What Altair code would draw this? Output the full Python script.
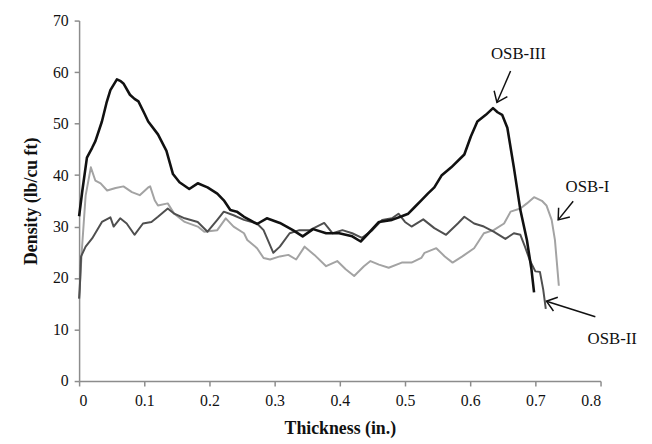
import math
import altair as alt
import pandas as pd

# ---- data ----
osb3_x = [0.000, 0.005, 0.012, 0.020, 0.025, 0.035, 0.042, 0.048, 0.058, 0.063, 0.068, 0.078, 0.085,
          0.091, 0.100, 0.106, 0.121, 0.134, 0.144, 0.154, 0.169, 0.182, 0.197, 0.212, 0.222, 0.232,
          0.242, 0.253, 0.263, 0.273, 0.288, 0.308, 0.328, 0.343, 0.359, 0.379, 0.399, 0.419, 0.432,
          0.444, 0.460, 0.480, 0.495, 0.505, 0.515, 0.525, 0.535, 0.545, 0.556, 0.571, 0.591, 0.601,
          0.611, 0.624, 0.635, 0.642, 0.649, 0.657, 0.667, 0.677, 0.687, 0.694, 0.698]
osb3_y = [32.0, 37.0, 43.4, 45.3, 46.6, 50.4, 54.0, 56.5, 58.6, 58.3, 57.8, 55.6, 54.8,
          54.3, 52.0, 50.4, 47.9, 44.7, 40.2, 38.6, 37.3, 38.4, 37.6, 36.4, 35.1, 33.2,
          32.9, 31.9, 31.2, 30.5, 31.6, 30.7, 29.3, 28.1, 29.5, 28.7, 28.7, 28.1, 27.1,
          28.7, 30.9, 31.3, 32.0, 32.5, 33.8, 35.1, 36.4, 37.6, 39.9, 41.5, 44.0, 47.5,
          50.4, 51.7, 53.0, 52.2, 51.7, 49.2, 41.5, 33.2, 27.4, 21.7, 17.2]

osb2_x = [0.000, 0.001, 0.003, 0.010, 0.020, 0.035, 0.048, 0.053, 0.063, 0.073, 0.085, 0.098, 0.111,
          0.121, 0.136, 0.146, 0.162, 0.182, 0.197, 0.212, 0.222, 0.237, 0.253, 0.273, 0.283, 0.298,
          0.308, 0.323, 0.338, 0.354, 0.376, 0.389, 0.404, 0.419, 0.434, 0.450, 0.465, 0.480, 0.490,
          0.500, 0.510, 0.528, 0.545, 0.563, 0.581, 0.591, 0.606, 0.621, 0.636, 0.654, 0.667, 0.677,
          0.684, 0.692, 0.700, 0.707, 0.712, 0.716]
osb2_y = [16.0, 17.8, 24.2, 26.1, 27.7, 30.9, 31.8, 30.0, 31.6, 30.6, 28.4, 30.6, 30.9,
          31.9, 33.5, 32.5, 31.6, 30.9, 29.0, 31.3, 32.9, 32.2, 31.3, 30.6, 29.3, 24.9,
          26.1, 28.7, 29.3, 29.3, 30.7, 28.7, 29.3, 28.7, 27.8, 29.3, 31.3, 31.6, 32.5,
          30.9, 30.0, 31.4, 29.7, 28.4, 30.6, 31.9, 30.6, 30.0, 29.0, 27.6, 28.7, 28.4,
          26.1, 23.3, 21.3, 21.2, 17.8, 14.0]

osb1_x = [0.000, 0.004, 0.010, 0.018, 0.025, 0.033, 0.043, 0.056, 0.068, 0.081, 0.093, 0.106, 0.109,
          0.116, 0.121, 0.136, 0.146, 0.162, 0.182, 0.192, 0.212, 0.225, 0.237, 0.253, 0.258, 0.273,
          0.283, 0.293, 0.308, 0.321, 0.333, 0.346, 0.361, 0.379, 0.396, 0.409, 0.422, 0.437, 0.447,
          0.460, 0.475, 0.495, 0.510, 0.525, 0.530, 0.548, 0.561, 0.573, 0.588, 0.606, 0.621, 0.636,
          0.652, 0.662, 0.677, 0.687, 0.698, 0.710, 0.717, 0.725, 0.730, 0.733, 0.736]
osb1_y = [16.0, 25.0, 36.0, 41.5, 38.9, 38.4, 37.0, 37.5, 37.8, 36.7, 36.1, 37.6, 37.8,
          35.1, 34.1, 34.5, 32.5, 30.9, 30.0, 29.0, 29.3, 31.6, 30.0, 28.7, 27.4, 25.8,
          23.9, 23.6, 24.2, 24.5, 23.6, 26.1, 24.5, 22.3, 23.3, 21.7, 20.4, 22.3, 23.3,
          22.6, 22.0, 23.0, 23.0, 23.9, 24.9, 25.8, 24.2, 23.0, 24.2, 25.8, 28.7, 29.3,
          30.6, 32.9, 33.5, 34.5, 35.7, 35.0, 34.1, 31.3, 27.4, 23.0, 18.5]

# annotations: label text position, arrow start, arrow end
ann_text = ["OSB-III", "OSB-I", "OSB-II"]
ann_tx = [0.674, 0.780, 0.818]
ann_ty = [63.5, 37.6, 8.2]
ann_x1 = [0.662, 0.758, 0.792]
ann_y1 = [60.2, 34.9, 12.5]
ann_x2 = [0.641, 0.735, 0.717]
ann_y2 = [54.1, 31.3, 15.5]

x_ticks = [0, 0.1, 0.2, 0.3, 0.4, 0.5, 0.6, 0.7, 0.8]
y_ticks = [0, 10, 20, 30, 40, 50, 60, 70]

W, H = 528, 365
XMAX, YMAX = 0.8, 70
SERIF = "Liberation Serif"

xs = alt.Scale(domain=[0, XMAX], nice=False, zero=False)
ys = alt.Scale(domain=[0, YMAX], nice=False)

xaxis = alt.Axis(values=x_ticks, title="Thickness (in.)",
                 labelExpr="datum.value == 0 ? '0' : format(datum.value, '.1f')",
                 labelPadding=7, titlePadding=11)
yaxis = alt.Axis(values=y_ticks, title="Density (lb/cu ft)", labelPadding=6, titlePadding=12)


def X(field):
    return alt.X(field, type="quantitative", scale=xs, axis=xaxis)


def Y(field):
    return alt.Y(field, type="quantitative", scale=ys, axis=yaxis)


def series(xv, yv, color, width):
    df = pd.DataFrame({"x": xv, "y": yv})
    return alt.Chart(df).mark_line(color=color, strokeWidth=width, strokeJoin="round").encode(
        x=X("x"), y=Y("y"))


l1 = series(osb1_x, osb1_y, "#a3a3a3", 2.0)
l2 = series(osb2_x, osb2_y, "#4f4f4f", 2.0)
l3 = series(osb3_x, osb3_y, "#111111", 2.6)

angles = []
for a, b, c, d in zip(ann_x1, ann_y1, ann_x2, ann_y2):
    dx = (c - a) / XMAX * W
    dy = -(d - b) / YMAX * H
    angles.append(math.degrees(math.atan2(dy, dx)) % 360)

ann = pd.DataFrame({"text": ann_text, "tx": ann_tx, "ty": ann_ty,
                    "x1": ann_x1, "y1": ann_y1, "x2": ann_x2, "y2": ann_y2, "ang": angles})

base = alt.Chart(ann)
rules = base.mark_rule(color="#111111", strokeWidth=1.5).encode(
    x=X("x1"), y=Y("y1"), x2="x2:Q", y2="y2:Q")
heads = base.mark_point(shape="M -1 -0.75 L 0 0 L -1 0.75", filled=False, color="#111111",
                        strokeWidth=1.5, size=380, opacity=1).encode(
    x=X("x2"), y=Y("y2"), angle=alt.Angle("ang:Q", scale=None))
labels = base.mark_text(font=SERIF, fontSize=17, color="#111111", align="center",
                        baseline="middle").encode(
    x=X("tx"), y=Y("ty"), text="text:N")

chart = alt.layer(l1, l2, l3, rules, heads, labels).properties(
    width=W, height=H,
    autosize=alt.AutoSizeParams(type="none"),
    padding={"left": 72, "top": 10, "right": 44, "bottom": 61},
).configure_view(stroke=None).configure_axis(
    grid=False, domainColor="#8c8c8c", tickColor="#8c8c8c", domainWidth=1.5, tickWidth=1.5,
    tickSize=5, labelFont=SERIF, labelFontSize=16, labelColor="#111111",
    titleFont=SERIF, titleFontSize=18, titleFontWeight="bold", titleColor="#111111",
)

chart.save("out.html", embed_options={"renderer": "svg", "actions": False})
